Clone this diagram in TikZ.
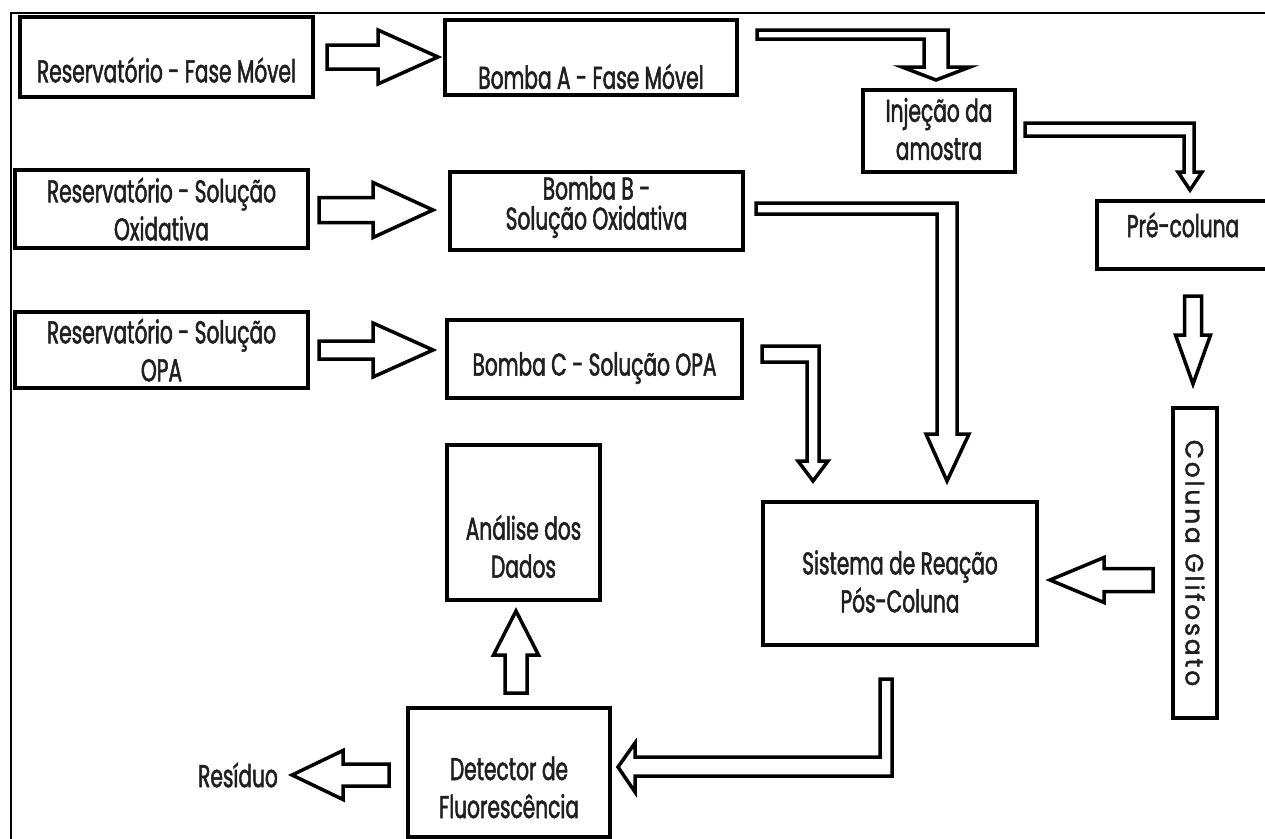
\documentclass[tikz,border=0pt]{standalone}
\usepackage{fontspec}
\setmainfont{Poppins}[FakeStretch=0.64, FakeBold=1.6]
\newfontfamily\spacedfont{Poppins}[LetterSpace=11, FakeBold=1.6]
\usetikzlibrary{calc}
\newcommand\blkarrow[5]{%
  \path (#1) coordinate (ba-t) (#2) coordinate (ba-h);
  \path ($(ba-h)!#5!(ba-t)$) coordinate (ba-b);
  \draw[barrow] ($(ba-t)!#3!90:(ba-h)$) -- ($(ba-b)!#3!-90:(ba-t)$) -- ($(ba-b)!#4!-90:(ba-t)$)
    -- (ba-h) -- ($(ba-b)!#4!90:(ba-t)$) -- ($(ba-b)!#3!90:(ba-t)$) -- ($(ba-t)!#3!-90:(ba-h)$) -- cycle;
}
\begin{document}
\begin{tikzpicture}[x=1pt,y=-1pt,
  box/.style={draw, line width=4pt, inner sep=0pt},
  txt/.style={align=center, font=\fontsize{31.5}{38}\selectfont, inner sep=0pt, text=black!88},
  barrow/.style={draw, line width=3.5pt, fill=white, line join=miter, miter limit=20}]
\useasboundingbox (0,0) rectangle (1265,838);
\draw[line width=2pt] (11,840) -- (11,13) -- (1270,13);

\node[box, minimum width=293, minimum height=80,
  label={[txt, yshift=-13pt]center:Reservatório - Fase Móvel}] (resfm) at (166.5,57) {};
\node[box, minimum width=292, minimum height=75,
  label={[txt, yshift=-19pt]center:Bomba A - Fase Móvel}] (bombaA) at (591,57.5) {};
\node[box, minimum width=152, minimum height=82,
  label={[txt, yshift=2pt]center:{Injeção da\\amostra}}] (inj) at (939,131) {};
\node[box, minimum width=293, minimum height=78,
  label={[txt]center:{Reservatório - Solução\\Oxidativa}}] (resox) at (161.5,209) {};
\node[box, minimum width=293, minimum height=78,
  label={[txt, font=\fontsize{31.5}{30}\selectfont, yshift=4pt]center:{Bomba B -\\Solução Oxidativa}}] (bombaB) at (596.5,211) {};
\node[box, minimum width=193, minimum height=68,
  label={[txt, xshift=-10.5pt, yshift=10pt]center:Pré-coluna}] (pre) at (1193.5,235) {};
\node[box, minimum width=293, minimum height=76,
  label={[txt]center:{Reservatório - Solução\\OPA}}] (resopa) at (161.5,350) {};
\node[box, minimum width=295, minimum height=78,
  label={[txt, yshift=-9pt]center:Bomba C - Solução OPA}] (bombaC) at (594.5,359) {};
\node[box, minimum width=44, minimum height=310,
  label={[inner sep=0pt, text=black!88, font=\spacedfont\fontsize{25}{25}\selectfont, rotate=-90]center:Coluna Glifosato}] (coluna) at (1195,563) {};
\node[box, minimum width=153, minimum height=155,
  label={[txt, yshift=-24pt]center:{Análise dos\\Dados}}] (analise) at (523.5,522.5) {};
\node[box, minimum width=274, minimum height=143,
  label={[txt, yshift=-8pt]center:{Sistema de Reação\\Pós-Coluna}}] (sistema) at (900,573.5) {};
\node[box, minimum width=202, minimum height=129,
  label={[txt, yshift=-15pt]center:{Detector de\\Fluorescência}}] (detector) at (509,772.5) {};
\node[txt] (residuo) at (238,775) {Resíduo};

% straight block arrows
\blkarrow{$(resfm.east)+(12,0)$}{$(bombaA.west)+(-5,-0.5)$}{12pt}{27pt}{60pt}
\blkarrow{$(resox.east)+(9,1)$}{$(bombaB.west)+(-15,-1)$}{12.5pt}{27.5pt}{60pt}
\blkarrow{$(resopa.east)+(9,0)$}{$(bombaC.west)+(-12,-9)$}{9pt}{27pt}{60pt}
\blkarrow{$(pre.south)+(-0.5,25)$}{$(coluna.north)+(-2,-22)$}{8.5pt}{17.5pt}{49pt}
\blkarrow{$(coluna.west)+(-18,17)$}{$(sistema.east)+(11,6.5)$}{11.5pt}{22.5pt}{54pt}
\blkarrow{$(detector.north)+(7,-13)$}{$(analise.south)+(-7.5,9)$}{11pt}{22.5pt}{44pt}
\blkarrow{$(detector.west)+(-17,2.5)$}{$(residuo.east)+(14,0)$}{11pt}{24.5pt}{51pt}

% bent block arrows
\draw[barrow] (757,30) -- (948,30) -- (948,67) -- (970,67) -- (936,80) -- (902,67)
  -- (924,67) -- (924,39) -- (757,39) -- cycle;
\draw[barrow] (1025,123) -- (1194,123) -- (1194,172) -- (1202,172) -- (1190,190)
  -- (1178,172) -- (1184,172) -- (1184,136) -- (1025,136) -- cycle;
\draw[barrow] (756,203) -- (957,203) -- (957,434) -- (969,434) -- (947,481)
  -- (926,434) -- (937,434) -- (937,214) -- (756,214) -- cycle;
\draw[barrow] (762,346) -- (819,346) -- (819,461) -- (828,461) -- (813,481)
  -- (798,461) -- (807,461) -- (807,362) -- (762,362) -- cycle;
\draw[barrow] (880,679) -- (892,679) -- (892,776) -- (635,776) -- (635,792)
  -- (618,767) -- (635,743) -- (635,757) -- (880,757) -- cycle;
\end{tikzpicture}
\end{document}
